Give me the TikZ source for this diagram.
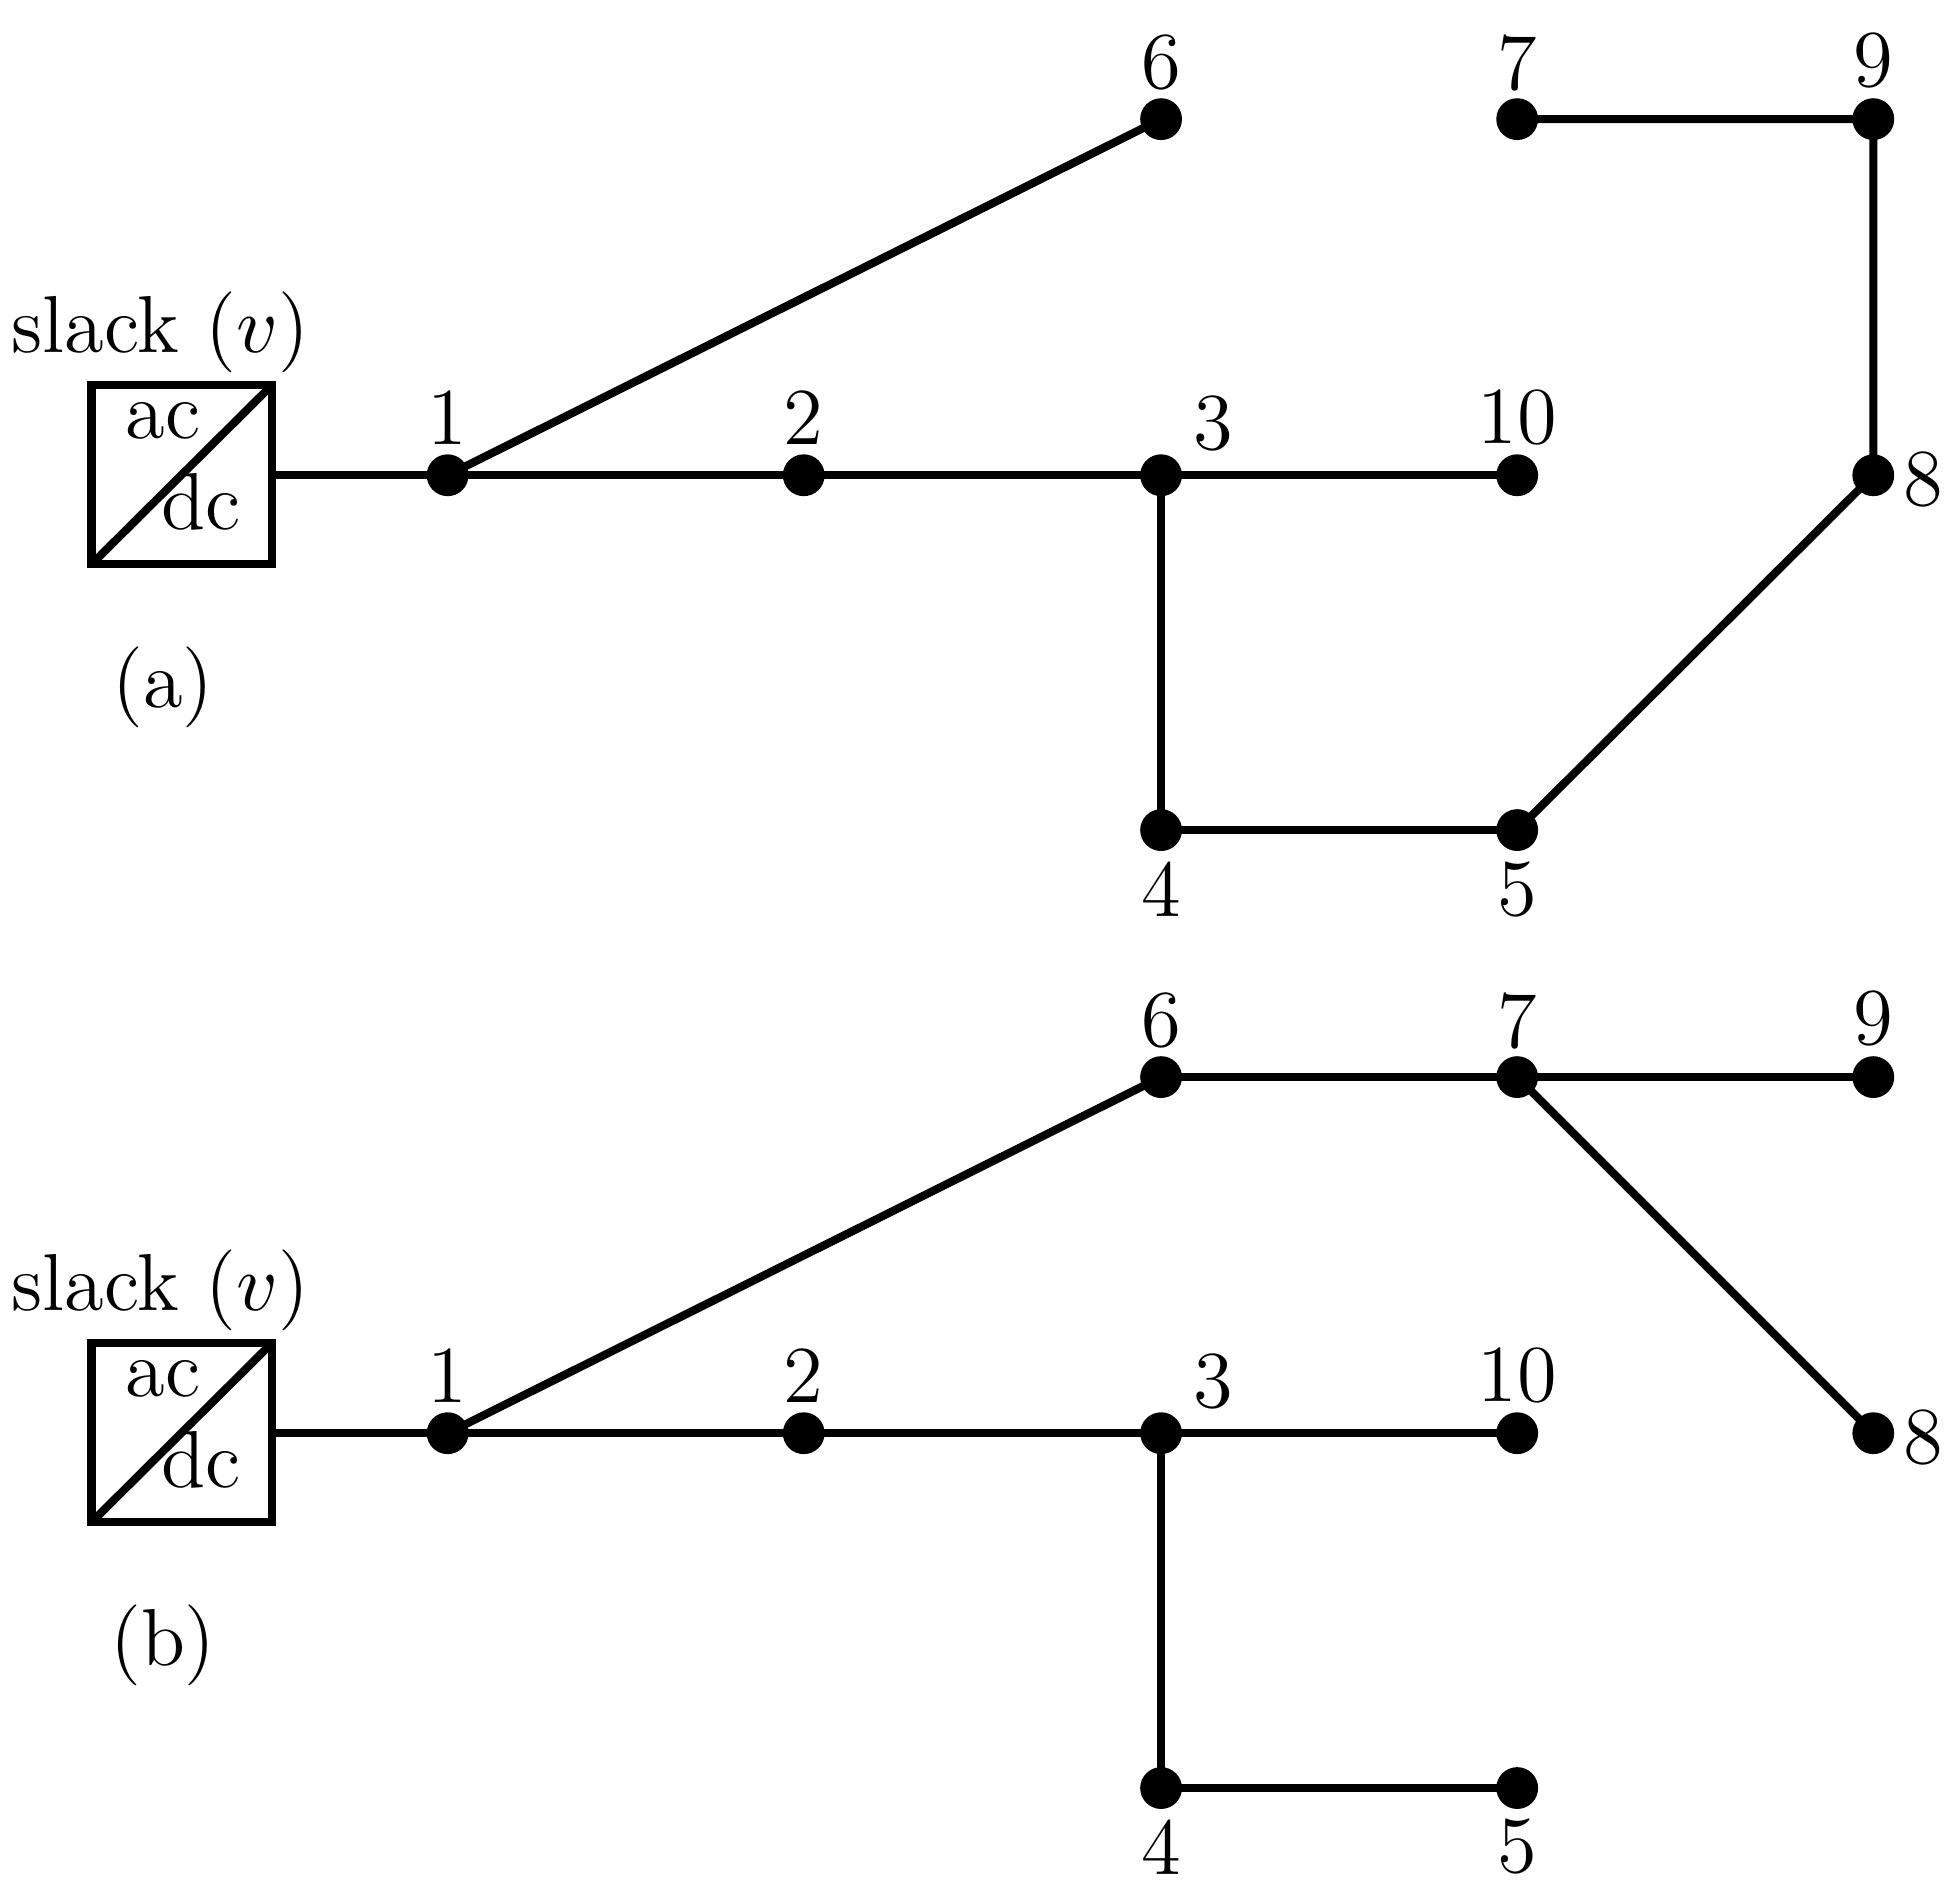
\documentclass[tikz,border=0pt]{standalone}
\begin{document}
\begin{tikzpicture}[x=0.006cm,y=-0.006cm,
  dot/.style={circle,fill=black,inner sep=0pt,minimum size=0.2cm},
  lbl/.style={font=\fontsize{11}{13}\selectfont,inner sep=0pt},
  ln/.style={line width=1.1pt}]
\useasboundingbox (0,0) rectangle (1560,1501);
\foreach \s/\oy/\cap in {a/0/(a),b/764/(b)}{
\begin{scope}[yshift=-\oy*0.006cm]
\coordinate (bl\s) at (73,450);
\coordinate (tr\s) at (217,307);
\draw[ln] (bl\s) rectangle (tr\s);
\draw[ln] (bl\s) -- (tr\s);
\coordinate (box\s) at (217,379);
\node[lbl] (ac\s) at (130,336) {ac};
\node[lbl] (dc\s) at (160,400) {dc};
\node[lbl] (sl\s) at (128,265) {slack ($v$)};
\node[lbl] (cap\s) at (130,548) {\cap};
\node[dot] (\s1) at (357,379) {};
\node[dot] (\s2) at (641,379) {};
\node[dot] (\s3) at (926,379) {};
\node[dot] (\s10) at (1210,379) {};
\node[dot] (\s4) at (926,662) {};
\node[dot] (\s5) at (1210,662) {};
\node[dot] (\s6) at (926,95) {};
\node[dot] (\s7) at (1210,95) {};
\node[dot] (\s9) at (1494,95) {};
\node[dot] (\s8) at (1494,379) {};
\node[lbl] at (357,333) {1};
\node[lbl] at (641,333) {2};
\node[lbl] at (968,338) {3};
\node[lbl] at (1210,333) {10};
\node[lbl] at (926,709) {4};
\node[lbl] at (1210,709) {5};
\node[lbl] at (926,50) {6};
\node[lbl] at (1210,50) {7};
\node[lbl] at (1494,48) {9};
\node[lbl] at (1534,382) {8};
\draw[ln] (box\s) -- (\s1.center) -- (\s2.center) -- (\s3.center) -- (\s10.center);
\draw[ln] (\s1.center) -- (\s6.center);
\draw[ln] (\s3.center) -- (\s4.center) -- (\s5.center);
\end{scope}}
\draw[ln] (a5.center) -- (a8.center) -- (a9.center) -- (a7.center);
\draw[ln] (b6.center) -- (b7.center) -- (b9.center);
\draw[ln] (b7.center) -- (b8.center);
\end{tikzpicture}
\end{document}
